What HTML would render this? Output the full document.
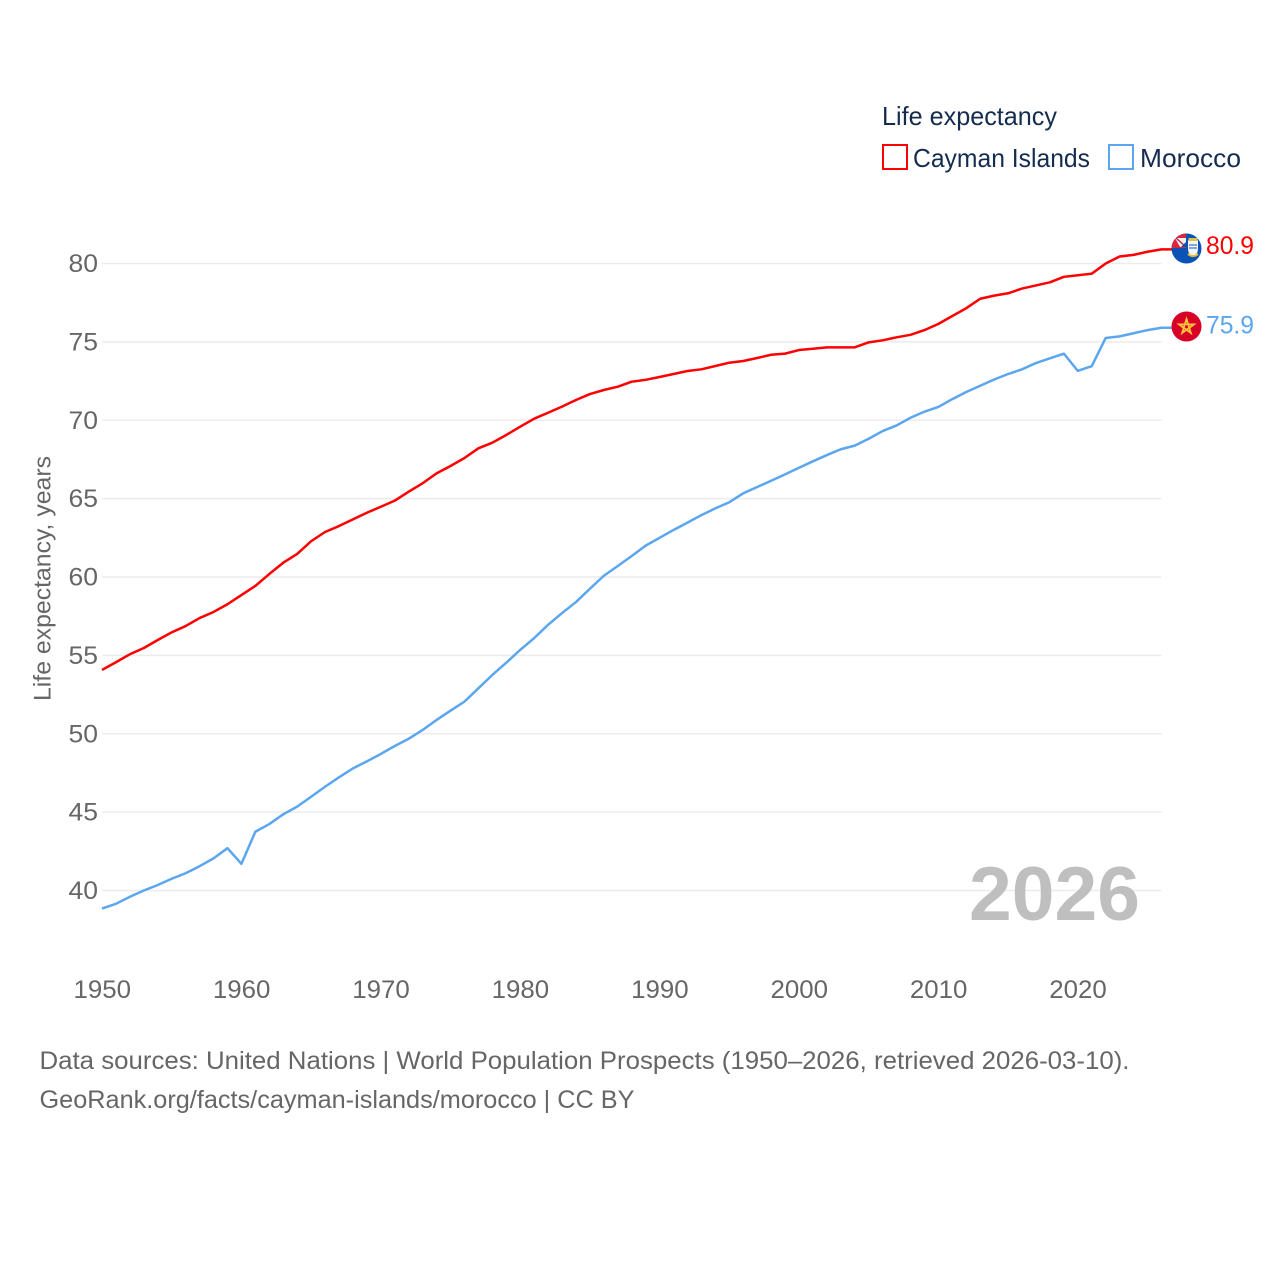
<!DOCTYPE html>
<html lang="en">
<head>
<meta charset="utf-8">
<title>Life expectancy: Cayman Islands and Morocco</title>
<style>
html,body{margin:0;padding:0;background:#fff;width:1280px;height:1280px;overflow:hidden}
svg{display:block}
text{font-family:"Liberation Sans",sans-serif}
</style>
</head>
<body>
<svg id="chart" width="1280" height="1280" viewBox="0 0 1280 1280" xmlns="http://www.w3.org/2000/svg">
  <defs>
    <clipPath id="flag-clip-a"><circle cx="1186.5" cy="248.5" r="15"/></clipPath>
    <clipPath id="flag-clip-b"><circle cx="1186.5" cy="326.5" r="15"/></clipPath>
  </defs>
  <rect width="1280" height="1280" fill="#fff"/>
  <g id="grid"></g>
  <g id="yticks"></g>
  <g id="xticks"></g>
  <text transform="translate(50.5,701) rotate(-90)" font-size="24" fill="#666" textLength="245" lengthAdjust="spacingAndGlyphs">Life expectancy, years</text>
  <text x="969" y="920" font-size="76" font-weight="700" fill="#bfbfbf" textLength="171" lengthAdjust="spacingAndGlyphs">2026</text>
  <g id="lines"></g>

  <g>
    <text x="882" y="125" font-size="26" fill="#152c4f" textLength="175" lengthAdjust="spacingAndGlyphs">Life expectancy</text>
    <g>
      <rect x="883" y="145" width="24" height="24" fill="none" stroke="#ff0000" stroke-width="2"/>
      <text x="913" y="167" font-size="26" fill="#152c4f" textLength="177" lengthAdjust="spacingAndGlyphs">Cayman Islands</text>
    </g>
    <g>
      <rect x="1109" y="145" width="24" height="24" fill="none" stroke="#5ba6ee" stroke-width="2"/>
      <text x="1140" y="167" font-size="26" fill="#152c4f" textLength="101" lengthAdjust="spacingAndGlyphs">Morocco</text>
    </g>
  </g>

  <g clip-path="url(#flag-clip-a)">
    <rect x="1171" y="233" width="31" height="31" fill="#0a52b4"/>
    <path d="M1171 233 H1186 V248 H1171 Z" fill="#d8283e"/>
    <path d="M1175 238 H1186 V247 H1180 Z" fill="#f3f0f2"/>
    <path d="M1176 238 L1186 247" stroke="#c8283e" stroke-width="1.5"/>
    <path d="M1181 247 L1186 247 L1186 242 Z" fill="#0a52b4"/>
    <path d="M1188 240 h10 v8 q0 7 -5 8 q-5 -1 -5 -8 z" fill="#f4f4f4"/>
    <rect x="1188.5" y="238" width="9" height="3" fill="#d8c24a"/>
    <path d="M1189 245 h8 M1189 248 h8" stroke="#5a8fd8" stroke-width="1.500"/>
    <path d="M1188 254 q5 4 10 0" stroke="#e8c23a" stroke-width="2" fill="none"/>
  </g>
  <g clip-path="url(#flag-clip-b)">
    <rect x="1171" y="311" width="31" height="31" fill="#d80027"/>
    <path d="M1186.5 319 L1190.9 333 L1179 324.4 H1194 L1182.1 333 Z" fill="none" stroke="#ffc43c" stroke-width="1.8"/>
  </g>

  <text x="1206" y="254" font-size="25" fill="#ff0000" textLength="48" lengthAdjust="spacingAndGlyphs">80.9</text>
  <text x="1206" y="333.500" font-size="25" fill="#5ba6ee" textLength="48" lengthAdjust="spacingAndGlyphs">75.9</text>

  <text x="39.500" y="1069" font-size="25" fill="#666" textLength="1090" lengthAdjust="spacingAndGlyphs">Data sources: United Nations | World Population Prospects (1950–2026, retrieved 2026-03-10).</text>
  <text x="39.500" y="1108" font-size="25" fill="#666" textLength="595" lengthAdjust="spacingAndGlyphs">GeoRank.org/facts/cayman-islands/morocco | CC BY</text>
</svg>
<script>
const firstYear = 1950;
const yTickValues = [40, 45, 50, 55, 60, 65, 70, 75, 80];
const xTickValues = [1950, 1960, 1970, 1980, 1990, 2000, 2010, 2020];
const caymanIslands = [
  54.07, 54.56, 55.07, 55.47, 55.98, 56.47, 56.87, 57.38, 57.77, 58.26,
  58.85, 59.43, 60.19, 60.91, 61.47, 62.28, 62.87, 63.25, 63.68, 64.10,
  64.48, 64.87, 65.44, 65.98, 66.61, 67.08, 67.59, 68.21, 68.57, 69.06,
  69.59, 70.10, 70.48, 70.87, 71.29, 71.67, 71.93, 72.14, 72.46, 72.58,
  72.76, 72.95, 73.14, 73.25, 73.46, 73.67, 73.78, 73.97, 74.18, 74.25,
  74.48, 74.56, 74.65, 74.65, 74.65, 74.97, 75.10, 75.29, 75.45, 75.75,
  76.15, 76.65, 77.15, 77.75, 77.95, 78.1, 78.4, 78.6, 78.8, 79.15,
  79.25, 79.35, 80.0, 80.45, 80.55, 80.75, 80.9
];
const morocco = [
  38.85, 39.15, 39.6, 40.0, 40.35, 40.75, 41.1, 41.55, 42.05, 42.7,
  41.7, 43.75, 44.24, 44.86, 45.35, 45.98, 46.62, 47.22, 47.79, 48.24,
  48.71, 49.22, 49.68, 50.24, 50.88, 51.47, 52.05, 52.9, 53.75, 54.53,
  55.35, 56.1, 56.95, 57.7, 58.4, 59.25, 60.08, 60.7, 61.34, 62.0,
  62.5, 63.0, 63.47, 63.95, 64.38, 64.77, 65.34, 65.74, 66.14, 66.55,
  66.97, 67.38, 67.78, 68.15, 68.38, 68.82, 69.31, 69.67, 70.16, 70.55,
  70.85, 71.35, 71.8, 72.2, 72.6, 72.95, 73.25, 73.65, 73.95, 74.25,
  73.15, 73.45, 75.25, 75.35, 75.55, 75.75, 75.9
];

const NS = 'http://www.w3.org/2000/svg';
const xScale = function (year) { return 102 + (year - 1950) * 13.94; };
const yScale = function (value) { return 890.5 - (value - 40) * 15.675; };

const grid = document.getElementById('grid');
const yticks = document.getElementById('yticks');
const xticks = document.getElementById('xticks');
const lines = document.getElementById('lines');

yTickValues.forEach(function (v) {
  const gridLine = document.createElementNS(NS, 'line');
  
  
  gridLine.setAttribute('x1', 102);
  gridLine.setAttribute('x2', xScale(2026));
  gridLine.setAttribute('y1', yScale(v));
  gridLine.setAttribute('y2', yScale(v));
  gridLine.setAttribute('stroke', '#ececec');
  gridLine.setAttribute('stroke-width', 1.5);
  grid.appendChild(gridLine);

  const label = document.createElementNS(NS, 'text');
  
  
  label.setAttribute('x', 68.5);
  label.setAttribute('y', yScale(v) + 8.5);
  label.setAttribute('textLength', 29.5);
  label.setAttribute('lengthAdjust', 'spacingAndGlyphs');
  label.setAttribute('font-size', 25);
  label.setAttribute('fill', '#666');
  label.textContent = v;
  yticks.appendChild(label);
});

xTickValues.forEach(function (year) {
  const label = document.createElementNS(NS, 'text');
  
  
  label.setAttribute('x', xScale(year) - 28.5);
  label.setAttribute('y', 998);
  label.setAttribute('textLength', 57.5);
  label.setAttribute('lengthAdjust', 'spacingAndGlyphs');
  label.setAttribute('font-size', 25);
  label.setAttribute('fill', '#666');
  label.textContent = year;
  xticks.appendChild(label);
});

function drawSeries(values, color, name) {
  const points = values.map(function (v, i) {
    return xScale(firstYear + i).toFixed(2) + ',' + yScale(v).toFixed(2);
  });
  const lastY = yScale(values[values.length - 1]).toFixed(2);
  points.push('1172,' + lastY);
  const path = document.createElementNS(NS, 'polyline');
  
  
  path.setAttribute('points', points.join(' '));
  path.setAttribute('fill', 'none');
  path.setAttribute('stroke', color);
  path.setAttribute('stroke-width', 2.5);
  path.setAttribute('stroke-linejoin', 'round');
  lines.appendChild(path);
}

drawSeries(caymanIslands, '#ff0000', 'line-cayman-islands');
drawSeries(morocco, '#5ba6ee', 'line-morocco');
</script>
</body>
</html>
